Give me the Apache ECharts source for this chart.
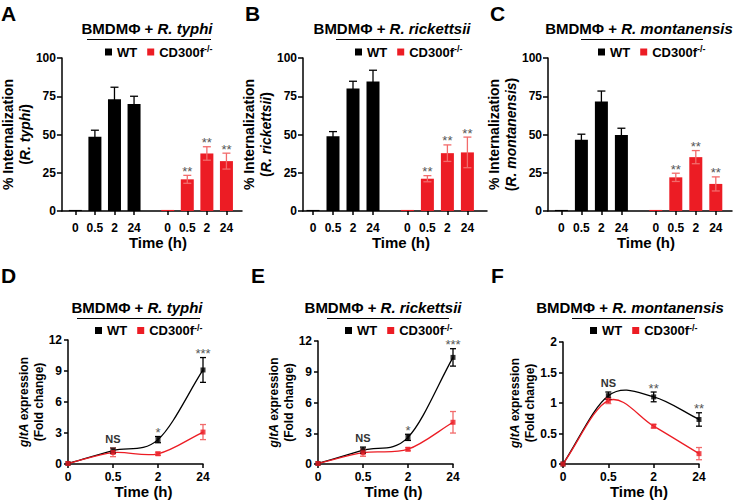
<!DOCTYPE html>
<html>
<head>
  <meta charset="utf-8">
  <title>BMDMΦ + Rickettsia</title>
  <script src="https://cdn.jsdelivr.net/npm/echarts@6/dist/echarts.min.js"></script>
</head>
<body style="margin:0">
  <div id="main" style="width:735px;height:500px;"></div>
  <script type="text/javascript">
    // time points (h)
    var times = ['0', '0.5', '2', '24'];

    // A-C: % internalization, mean and error
    var typhiWT = [0.7, 48.5, 73, 70];
    var typhiWTErr = [0, 4.3, 7.9, 5];
    var typhiKO = [0.7, 20.7, 37.6, 32.6];
    var typhiKOErr = [0, 2.6, 4.4, 5.2];

    var rickWT = [0.7, 48.9, 80, 84.6];
    var rickWTErr = [0, 3, 4.8, 7.4];
    var rickKO = [0.7, 21.1, 37.8, 38.3];
    var rickKOErr = [0, 2, 5.4, 10];

    var montWT = [0.7, 46.5, 71.6, 49.6];
    var montWTErr = [0, 3.7, 6.8, 4.5];
    var montKO = [0.7, 22, 35.2, 17.7];
    var montKOErr = [0, 2.7, 4.3, 4.6];

    var barStars = ['', '**', '**', '**'];

    // D-F: gltA expression (fold change)
    var typhiExpWT = [0.05, 1.3, 2.36, 9.1];
    var typhiExpWTErr = [0, 0.25, 0.3, 1.2];
    var typhiExpKO = [0.05, 1.11, 0.99, 3.09];
    var typhiExpKOErr = [0, 0.4, 0.15, 0.73];

    var rickExpWT = [0.05, 1.35, 2.6, 10.4];
    var rickExpWTErr = [0, 0.3, 0.3, 0.85];
    var rickExpKO = [0.05, 1.1, 1.44, 4.07];
    var rickExpKOErr = [0, 0.35, 0.15, 1.05];

    var montExpWT = [0, 1.12, 1.1, 0.73];
    var montExpWTErr = [0, 0.06, 0.08, 0.11];
    var montExpKO = [0, 1.04, 0.62, 0.17];
    var montExpKOErr = [0, 0.05, 0.03, 0.1];

    var lineStarsTR = ['', 'NS', '*', '***'];
    var lineStarsM = ['', 'NS', '**', '**'];

    var FONT = '"Liberation Sans", Arial, sans-serif';
    var RED = '#ec1c24';
    var RED_ERR = '#f26b6b';

    var myChart = echarts.init(document.getElementById('main'), null, { renderer: 'svg' });

    // bar slots: 4 WT bars, gap, 4 KO bars
    function slot(group, i) { return 1 + i + group * 4.72; }
    var slotTicks = [0, 1, 2, 3].map(function (i) { return slot(0, i); })
      .concat([0, 1, 2, 3].map(function (i) { return slot(1, i); }));

    var axisLineStyle = { color: '#000', width: 1.5 };
    var tickLabel = { color: '#000', fontFamily: FONT, fontWeight: 'bold', fontSize: 12 };

    function errorSeries(k, xs, means, errs, color, stars, capW) {
      return {
        type: 'custom',
        name: 'err' + k + color,
        xAxisIndex: k,
        yAxisIndex: k,
        silent: true,
        z: 5,
        encode: { x: 0, y: 1 },
        data: means.map(function (m, i) { return [xs[i], m, errs[i]]; }),
        renderItem: function (params, api) {
          var x = api.value(0), m = api.value(1), e = api.value(2);
          var top = api.coord([x, m + e]);
          var bot = api.coord([x, m - e]);
          var st = { stroke: color, lineWidth: 1.3 };
          var children = [];
          if (e > 0) {
            children.push({ type: 'line', shape: { x1: top[0], y1: top[1], x2: bot[0], y2: bot[1] }, style: st });
            children.push({ type: 'line', shape: { x1: top[0] - capW / 2, y1: top[1], x2: top[0] + capW / 2, y2: top[1] }, style: st });
            children.push({ type: 'line', shape: { x1: bot[0] - capW / 2, y1: bot[1], x2: bot[0] + capW / 2, y2: bot[1] }, style: st });
          }
          var s = stars && stars[params.dataIndex];
          if (s) {
            var isNS = s === 'NS';
            children.push({
              type: 'text',
              style: {
                text: s, x: top[0], y: top[1] - (isNS ? 9 : 4),
                align: 'center', verticalAlign: 'middle',
                fill: isNS ? '#333' : '#555',
                fontFamily: FONT, fontSize: isNS ? 11 : 13, fontWeight: isNS ? 'bold' : 'normal'
              }
            });
          }
          return { type: 'group', children: children };
        }
      };
    }

    // spline through the points (Catmull-Rom), drawn once from the first item
    function curveSeries(k, values, color) {
      return {
        type: 'custom',
        name: 'curve' + k + color,
        xAxisIndex: k,
        yAxisIndex: k,
        silent: true,
        z: 3,
        encode: { x: 0, y: 1 },
        data: values.map(function (v, i) { return [i, v]; }),
        renderItem: function (params, api) {
          if (params.dataIndex !== 0) return null;
          var p = values.map(function (v, i) { return api.coord([i, v]); });
          var n = p.length;
          var tan = p.map(function (pt, i) {
            var a = p[Math.max(i - 1, 0)], b = p[Math.min(i + 1, n - 1)];
            var f = (i === 0 || i === n - 1) ? 1 : 0.5;
            return [(b[0] - a[0]) * f, (b[1] - a[1]) * f];
          });
          var children = [];
          for (var i = 0; i < n - 1; i++) {
            children.push({
              type: 'bezierCurve',
              shape: {
                x1: p[i][0], y1: p[i][1], x2: p[i + 1][0], y2: p[i + 1][1],
                cpx1: p[i][0] + tan[i][0] / 3, cpy1: p[i][1] + tan[i][1] / 3,
                cpx2: p[i + 1][0] - tan[i + 1][0] / 3, cpy2: p[i + 1][1] - tan[i + 1][1] / 3
              },
              style: { stroke: color, lineWidth: 1.3, fill: null }
            });
          }
          return { type: 'group', children: children };
        }
      };
    }

    var nameRich = {
      b: { fontFamily: FONT, fontWeight: 'bold', fontSize: 14, color: '#000', lineHeight: 17 },
      i: { fontFamily: FONT, fontWeight: 'bold', fontStyle: 'italic', fontSize: 14, color: '#000', lineHeight: 17 }
    };

    var grids = [], xAxes = [], yAxes = [], series = [], legends = [], graphics = [];

    var barPanels = [
      { left: 58, xMin: 0.315, wt: typhiWT, wtErr: typhiWTErr, ko: typhiKO, koErr: typhiKOErr, sp: 'R. typhi', legendLeft: 105, title: 147, line: [87, 211], letter: 'A', lx: 1 },
      { left: 303, xMin: 0.5, wt: rickWT, wtErr: rickWTErr, ko: rickKO, koErr: rickKOErr, sp: 'R. rickettsii', legendLeft: 355, title: 392, line: [336, 460], letter: 'B', lx: 245 },
      { left: 548, xMin: 0.33, wt: montWT, wtErr: montWTErr, ko: montKO, koErr: montKOErr, sp: 'R. montanensis', legendLeft: 598, title: 639, line: [581, 703], letter: 'C', lx: 490 }
    ];

    var linePanels = [
      { left: 68, top: 340, w: 135, h: 126, max: 12, interval: 3, wt: typhiExpWT, wtErr: typhiExpWTErr, ko: typhiExpKO, koErr: typhiExpKOErr, stars: lineStarsTR, sp: 'R. typhi', legendLeft: 95, title: 137, line: [77, 200], letter: 'D', lx: 1, gap: 17 },
      { left: 318, top: 341, w: 135, h: 127, max: 12, interval: 3, wt: rickExpWT, wtErr: rickExpWTErr, ko: rickExpKO, koErr: rickExpKOErr, stars: lineStarsTR, sp: 'R. rickettsii', legendLeft: 345, title: 383, line: [327, 449], letter: 'E', lx: 251, gap: 16 },
      { left: 563, top: 342, w: 136, h: 125, max: 2, interval: 0.5, wt: montExpWT, wtErr: montExpWTErr, ko: montExpKO, koErr: montExpKOErr, stars: lineStarsM, sp: 'R. montanensis', legendLeft: 590, title: 630, line: [572, 695], letter: 'F', lx: 491, gap: 26 }
    ];

    function legendFor(left, top) {
      return {
        left: left, top: top, padding: 0,
        selectedMode: false,
        itemWidth: 7, itemHeight: 7, itemGap: 10,
        data: [{ name: 'WT', icon: 'rect' }, { name: 'CD300f', icon: 'rect' }],
        formatter: function (n) { return n === 'CD300f' ? 'CD300f{s|-/-}' : n; },
        textStyle: {
          fontFamily: FONT, fontWeight: 'bold', fontSize: 13, color: '#000', lineHeight: 15,
          rich: { s: { fontFamily: FONT, fontWeight: 'bold', fontSize: 9, color: '#000', verticalAlign: 'top' } }
        }
      };
    }

    function headerGraphics(p, titleY, lineY) {
      graphics.push({
        type: 'text', x: p.title, y: titleY,
        style: {
          text: '{b|BMDMΦ + }{i|' + p.sp + '}', align: 'center', verticalAlign: 'middle',
          rich: {
            b: { fontFamily: FONT, fontWeight: 'bold', fontSize: 15, fill: '#000' },
            i: { fontFamily: FONT, fontWeight: 'bold', fontStyle: 'italic', fontSize: 15, fill: '#000' }
          }
        }
      });
      graphics.push({
        type: 'line', shape: { x1: p.line[0], y1: lineY, x2: p.line[1], y2: lineY },
        style: { stroke: '#000', lineWidth: 1.2 }
      });
    }

    barPanels.forEach(function (p, k) {
      grids.push({ left: p.left, top: 58, width: 184, height: 153 });
      xAxes.push({
        gridIndex: k, type: 'value', min: p.xMin, max: p.xMin + 9.2,
        splitLine: { show: false },
        axisLine: { show: true, lineStyle: axisLineStyle },
        axisTick: { show: true, length: 4, customValues: slotTicks, lineStyle: axisLineStyle },
        axisLabel: Object.assign({
          customValues: slotTicks, margin: 11,
          formatter: function (v) {
            for (var i = 0; i < slotTicks.length; i++) {
              if (Math.abs(slotTicks[i] - v) < 0.01) return times[i % 4];
            }
            return '';
          }
        }, tickLabel),
        name: 'Time (h)', nameLocation: 'middle', nameGap: 21,
        nameTextStyle: { fontFamily: FONT, fontWeight: 'bold', fontSize: 15, color: '#000', padding: [0, 0, 0, 12] }
      });
      yAxes.push({
        gridIndex: k, type: 'value', min: 0, max: 100, interval: 25,
        splitLine: { show: false },
        axisLine: { show: true, lineStyle: axisLineStyle },
        axisTick: { show: true, length: 5, lineStyle: axisLineStyle },
        axisLabel: Object.assign({ margin: 6 }, tickLabel),
        name: '{b|% Internalization}\n{b|(}{i|' + p.sp + '}{b|)}',
        nameLocation: 'middle', nameGap: 20, nameRotate: 90,
        nameTextStyle: { rich: nameRich }
      });
      var wx = p.wt.map(function (v, i) { return slot(0, i); });
      var kx = p.ko.map(function (v, i) { return slot(1, i); });
      series.push({
        type: 'bar', name: 'WT', xAxisIndex: k, yAxisIndex: k, barWidth: 13, barGap: '-100%',
        itemStyle: { color: '#000' },
        data: p.wt.map(function (v, i) { return [wx[i], v]; })
      });
      series.push({
        type: 'bar', name: 'CD300f', xAxisIndex: k, yAxisIndex: k, barWidth: 13, barGap: '-100%',
        itemStyle: { color: RED },
        data: p.ko.map(function (v, i) { return [kx[i], v]; })
      });
      series.push(errorSeries(k, wx, p.wt, p.wtErr, '#000', null, 8));
      series.push(errorSeries(k, kx, p.ko, p.koErr, RED_ERR, barStars, 8));
      legends.push(legendFor(p.legendLeft, 44.5));
      headerGraphics(p, 28, 39.5);
      graphics.push({
        type: 'text', x: p.lx, y: 3,
        style: { text: p.letter, fontFamily: FONT, fontWeight: 'bold', fontSize: 21, fill: '#000' }
      });
    });

    linePanels.forEach(function (p, j) {
      var k = j + 3;
      grids.push({ left: p.left, top: p.top, width: p.w, height: p.h });
      xAxes.push({
        gridIndex: k, type: 'category', data: times, boundaryGap: false,
        axisLine: { show: true, lineStyle: axisLineStyle },
        axisTick: { show: true, length: 4, alignWithLabel: true, lineStyle: axisLineStyle },
        axisLabel: Object.assign({ margin: 7, interval: 0 }, tickLabel),
        name: 'Time (h)', nameLocation: 'middle', nameGap: 20,
        nameTextStyle: { fontFamily: FONT, fontWeight: 'bold', fontSize: 15, color: '#000', padding: [0, 0, 0, 16] }
      });
      yAxes.push({
        gridIndex: k, type: 'value', min: 0, max: p.max, interval: p.interval,
        splitLine: { show: false },
        axisLine: { show: true, lineStyle: axisLineStyle },
        axisTick: { show: true, length: 4, lineStyle: axisLineStyle },
        axisLabel: Object.assign({ margin: 6 }, tickLabel),
        name: '{i|gltA}{b| expression}\n{b|(Fold change)}',
        nameLocation: 'middle', nameGap: p.gap, nameRotate: 90,
        nameTextStyle: {
          rich: {
            b: { fontFamily: FONT, fontWeight: 'bold', fontSize: 12, color: '#000', lineHeight: 15 },
            i: { fontFamily: FONT, fontWeight: 'bold', fontStyle: 'italic', fontSize: 12, color: '#000', lineHeight: 15 }
          }
        }
      });
      var idx = [0, 1, 2, 3];
      series.push(curveSeries(k, p.wt, '#000'));
      series.push(curveSeries(k, p.ko, RED));
      series.push({
        type: 'scatter', name: 'WT', xAxisIndex: k, yAxisIndex: k,
        symbol: 'rect', symbolSize: 5, itemStyle: { color: '#000' },
        data: p.wt, z: 6
      });
      series.push({
        type: 'scatter', name: 'CD300f', xAxisIndex: k, yAxisIndex: k,
        symbol: 'rect', symbolSize: 5, itemStyle: { color: RED },
        data: p.ko, z: 7
      });
      series.push(errorSeries(k, idx, p.wt, p.wtErr, '#000', p.stars, 6));
      series.push(errorSeries(k, idx, p.ko, p.koErr, RED_ERR, null, 6));
      legends.push(legendFor(p.legendLeft, 323));
      headerGraphics(p, 307, 318.5);
      graphics.push({
        type: 'text', x: p.lx, y: 265,
        style: { text: p.letter, fontFamily: FONT, fontWeight: 'bold', fontSize: 21, fill: '#000' }
      });
    });

    myChart.setOption({
      backgroundColor: '#fff',
      animation: false,
      grid: grids,
      xAxis: xAxes,
      yAxis: yAxes,
      legend: legends,
      graphic: graphics,
      series: series
    });
  </script>
</body>
</html>
